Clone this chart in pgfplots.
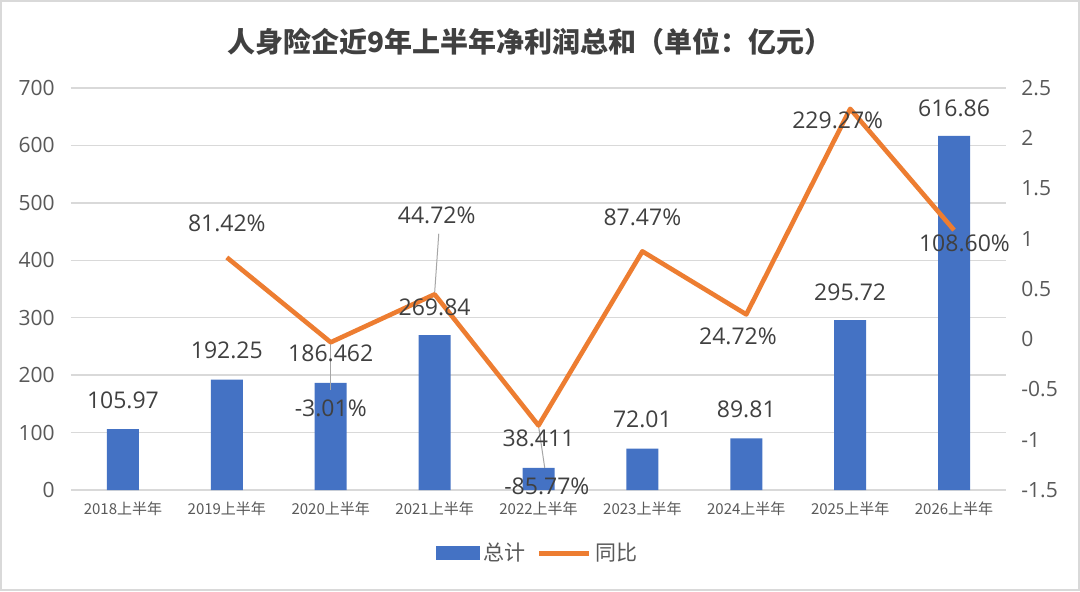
\documentclass[border=0pt]{standalone}
\usepackage{fontspec}
\setmainfont{Noto Sans CJK SC}
\newfontfamily\numf{Open Sans}
\usepackage{pgfplots}
\pgfplotsset{compat=1.18}
\definecolor{barblue}{HTML}{4472C4}
\definecolor{lineorange}{HTML}{ED7D31}
\definecolor{tickgray}{HTML}{595959}
\definecolor{labgray}{HTML}{404040}
\definecolor{gridgray}{HTML}{D9D9D9}
\definecolor{leadgray}{HTML}{A6A6A6}
\begin{document}
\begin{tikzpicture}
\path[use as bounding box] (0,0) rectangle (540pt,295.5pt);
\fill[white] (0,0) rectangle (540pt,295.5pt);
\draw[gridgray, line width=1.2pt] (0.6pt,0.6pt) rectangle (539.4pt,294.9pt);
\node[font=\bfseries\fontsize{14}{16}\selectfont, text=labgray] at (265pt,274.5pt) {人身险企近9年上半年净利润总和（单位：亿元）};
\pgfplotsset{
  base/.style={
    at={(35.5pt,50.5pt)}, anchor=south west, scale only axis,
    width=467.5pt, height=201pt, xmin=-0.5, xmax=8.5, clip=false,
    major tick length=0pt, axis line style={draw=none},
    /pgf/number format/assume math mode=true,
  }
}
\begin{axis}[base,
  ymin=0, ymax=700, ytick={0,100,...,700},
  xtick={0,...,8},
  xticklabels={2018上半年,2019上半年,2020上半年,2021上半年,2022上半年,2023上半年,2024上半年,2025上半年,2026上半年},
  xticklabel style={font=\fontsize{7.5}{9}\selectfont, text=tickgray, anchor=north, inner sep=0pt, yshift=-5.5pt},
  yticklabel style={font=\numf\fontsize{10.5}{12}\selectfont, text=tickgray, anchor=east, inner sep=0pt, xshift=-8pt},
  ymajorgrids, grid style={gridgray, line width=0.7pt},
  legend style={at={(0.5005,-0.157)}, anchor=center, draw=none, fill=none,
    legend columns=2, font=\fontsize{10.5}{12}\selectfont, text=tickgray,
    /tikz/every even column/.append style={column sep=3.5pt}},
  legend cell align=left,
]
\addplot[ybar, bar width=16pt, fill=barblue, draw=none,
  legend image code/.code={\fill[barblue] (0pt,-3.5pt) rectangle (22pt,3.5pt);}]
  coordinates {(0,105.97) (1,192.25) (2,186.462) (3,269.84) (4,38.411) (5,72.01) (6,89.81) (7,295.72) (8,616.86)};
\addlegendentry{总计}
\addlegendimage{legend image code/.code={\draw[lineorange, line width=2.5pt] (0pt,0pt) -- (25pt,0pt);}}
\addlegendentry{同比}
\end{axis}
\begin{axis}[base,
  ymin=-1.5, ymax=2.5, ytick={-1.5,-1,...,2.5},
  axis x line=none, axis y line*=right, yticklabel pos=right,
  yticklabel style={font=\numf\fontsize{10.5}{12}\selectfont, text=tickgray, anchor=west, inner sep=0pt, xshift=7.5pt},
]
\draw[leadgray, line width=0.5pt] (axis cs:2,-0.50) -- (axis cs:2,-0.04);
\draw[leadgray, line width=0.5pt] (axis cs:3.04,1.05) -- (axis cs:3,0.46);
\draw[leadgray, line width=0.5pt] (axis cs:4,-0.86) -- (axis cs:4.06,-1.28);
\addplot[lineorange, line width=2.3pt, line join=round, no marks]
  coordinates {(1,0.8142) (2,-0.0301) (3,0.4472) (4,-0.8577) (5,0.8747) (6,0.2472) (7,2.2927) (8,1.086)};
\begin{scope}[every node/.style={font=\numf\fontsize{11.5}{13}\selectfont, text=labgray}]
\node at (axis cs:1,1.157) {81.42\%};
\node at (axis cs:2,-0.684) {-3.01\%};
\node at (axis cs:3.02,1.236) {44.72\%};
\node at (axis cs:4.08,-1.46) {-85.77\%};
\node at (axis cs:5,1.216) {87.47\%};
\node at (axis cs:5.92,0.032) {24.72\%};
\node at (axis cs:6.88,2.18) {229.27\%};
\node at (axis cs:8.10,0.958) {108.60\%};
\end{scope}
\end{axis}
\begin{axis}[base, hide axis, ymin=0, ymax=700]
\begin{scope}[every node/.style={font=\numf\fontsize{11.5}{13}\selectfont, text=labgray}]
\node at (axis cs:0,156.7) {105.97};
\node at (axis cs:1,243.8) {192.25};
\node at (axis cs:2,238.5) {186.462};
\node at (axis cs:3,318.6) {269.84};
\node at (axis cs:4,90.5) {38.411};
\node at (axis cs:5,123.6) {72.01};
\node at (axis cs:6,141) {89.81};
\node at (axis cs:7,345) {295.72};
\node at (axis cs:8,665) {616.86};
\end{scope}
\end{axis}
\end{tikzpicture}
\end{document}
